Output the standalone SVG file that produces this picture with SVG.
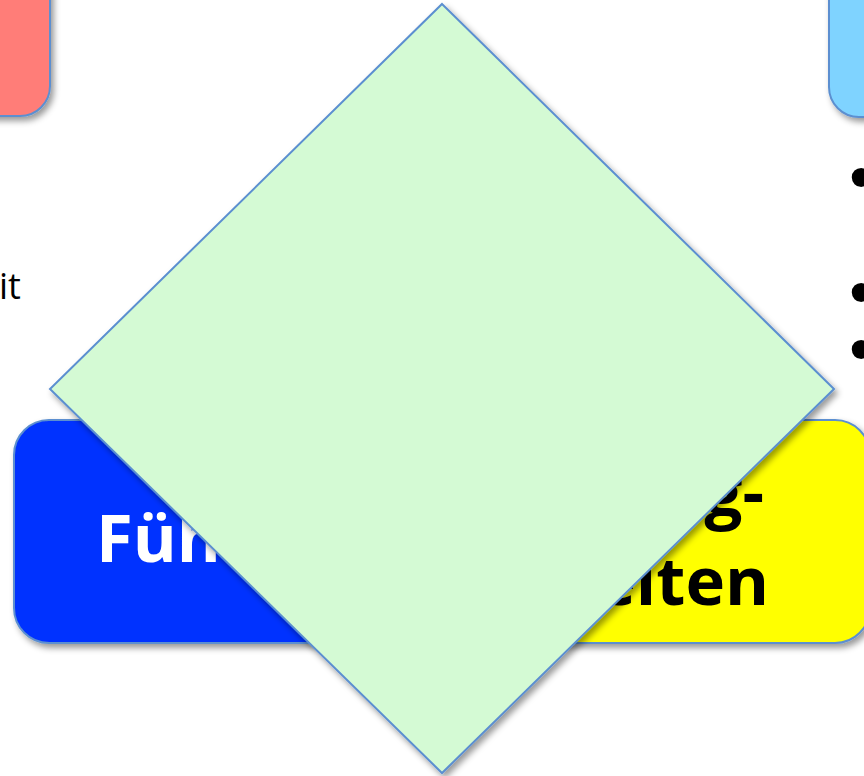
<svg xmlns="http://www.w3.org/2000/svg" width="864" height="776" viewBox="0 0 864 776">
<defs>
<filter id="sh" x="-10%" y="-10%" width="130%" height="130%">
<feDropShadow dx="3" dy="4" stdDeviation="3" flood-color="#000" flood-opacity="0.4"/>
</filter>
<style>
.box{stroke:#5B8FD0;stroke-width:2;filter:url(#sh)}
.big{font-family:"Open Sans","Liberation Sans",sans-serif;font-weight:bold;font-size:67px}
.body{font-family:"Open Sans","Liberation Sans",sans-serif;font-size:36px;fill:#000}
.bul{font-family:"Liberation Sans",sans-serif;font-size:70px;fill:#000}
</style>
</defs>
<rect width="864" height="776" fill="#fff"/>
<g id="node-red">
<rect class="box" x="-40" y="-40" width="90" height="156" rx="30" fill="#FF7D78"/>
</g>
<g id="node-lightblue">
<rect class="box" x="829" y="-40" width="80" height="157" rx="30" fill="#7FD3FF"/>
</g>
<g id="text-left">
<text class="body" x="-1" y="299">it</text>
</g>
<g id="text-right">
<text class="bul" x="849" y="201">•</text>
<text class="bul" x="849" y="316">•</text>
<text class="bul" x="849" y="373">•</text>
</g>
<g id="node-blue">
<rect class="box" x="14" y="420" width="420" height="223" rx="35" fill="#0433FF"/>
<text class="big" x="96" y="562" fill="#fff">Führ</text>
</g>
<g id="node-yellow">
<rect class="box" x="440" y="420" width="430" height="223" rx="35" fill="#FFFF00"/>
<text class="big" x="764" y="516" fill="#000" text-anchor="end">g-</text>
<text class="big" x="769" y="605" fill="#000" text-anchor="end">eiten</text>
</g>
<g id="node-diamond">
<polygon points="442,4 834,389 442,773 50,389" fill="#D4FAD4" stroke="#5B8FD0" stroke-width="2" filter="url(#sh)"/>
</g>
<g id="connectors"/>
</svg>
